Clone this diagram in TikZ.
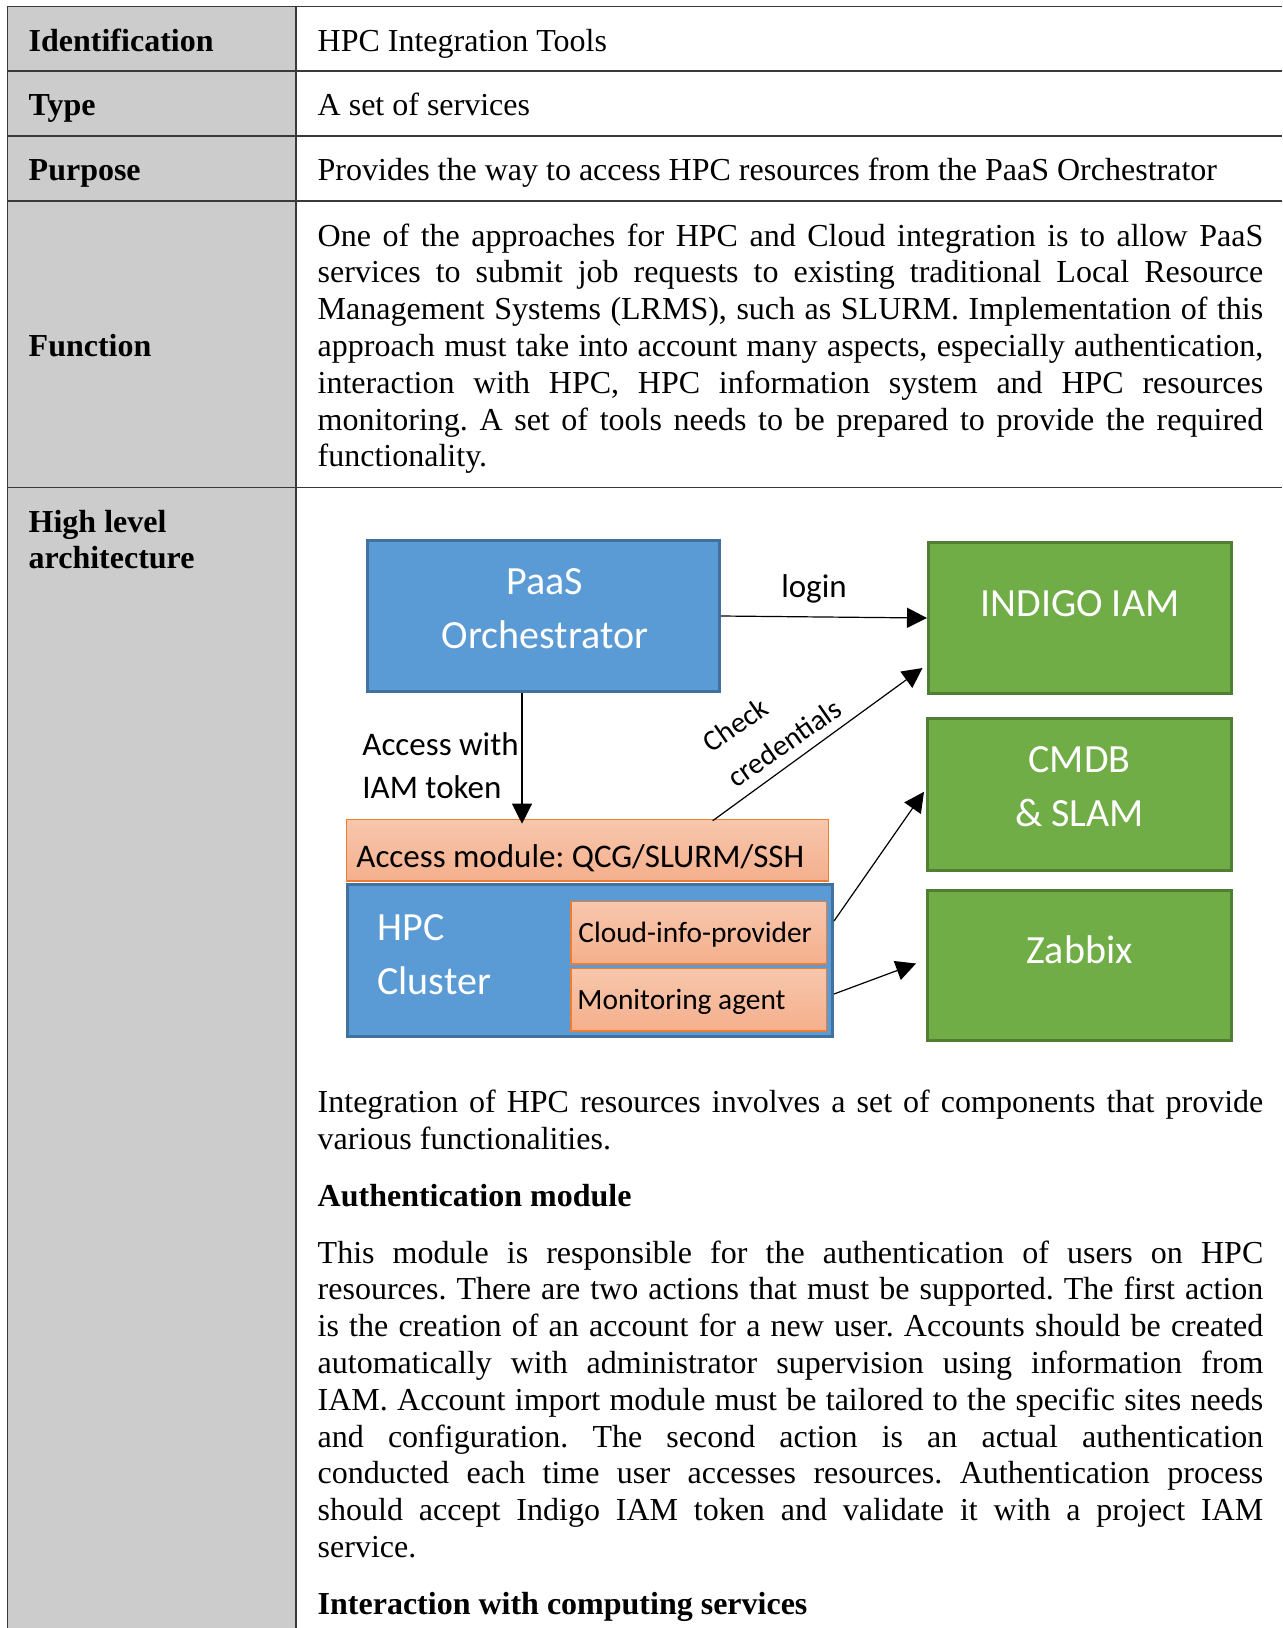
\documentclass[tikz,border=0pt]{standalone}
\usepackage{fontspec}
\setmainfont{Liberation Serif}
\newfontfamily\diagfont{Carlito}
\usetikzlibrary{arrows.meta,fit}
\setlength{\parindent}{0pt}
\tolerance=9999
\hbadness=10000
\frenchspacing
\definecolor{cellgray}{HTML}{CCCCCC}
\definecolor{rulegray}{HTML}{3A3A3A}
\definecolor{bluefill}{HTML}{5B9BD5}
\definecolor{blueline}{HTML}{41719C}
\definecolor{greenfill}{HTML}{70AD47}
\definecolor{greenline}{HTML}{507E32}
\definecolor{orangetop}{HTML}{F8C7AD}
\definecolor{orangebot}{HTML}{F4AF8C}
\definecolor{orangeline}{HTML}{ED7D31}
\tikzset{
  rule/.style={draw=rulegray, line width=0.7pt},
  txt/.style={inner sep=0pt, anchor=base west, font=\fontsize{16}{18.4}\selectfont},
  hdr/.style={inner sep=0pt, anchor=base west, font=\fontsize{16}{18.4}\selectfont\bfseries},
  hdrpara/.style={inner sep=0pt, anchor=north west, align=left, font=\fontsize{16}{18.4}\selectfont\bfseries},
  para/.style={inner sep=0pt, anchor=north west, text width=472.8pt, align=justify,
    font=\fontsize{16}{18.4}\selectfont,
    execute at begin node={\setlength{\parindent}{0pt}\frenchspacing}},
  bluebox/.style={fill=bluefill, draw=blueline, line width=1.5pt, inner sep=0pt},
  greenbox/.style={fill=greenfill, draw=greenline, line width=1.5pt, inner sep=0pt},
  orangebox/.style={top color=orangetop, bottom color=orangebot, draw=orangeline, line width=0.8pt, inner sep=0pt},
  wtitle/.style={text=white, inner sep=0pt, align=center, font=\diagfont\fontsize{20}{27}\selectfont},
  wtitleleft/.style={text=white, inner sep=0pt, align=left, anchor=north west, font=\diagfont\fontsize{20}{27}\selectfont},
  lbl/.style={text=black, inner sep=0pt, font=\diagfont\fontsize{16.5}{21.5}\selectfont\frenchspacing},
  smalllbl/.style={text=black, inner sep=0pt, font=\diagfont\fontsize{14.7}{21.5}\selectfont},
  arr/.style={draw=black, line width=0.6pt, -{Triangle[length=10pt,width=10pt]}},
}
\begin{document}
\begin{tikzpicture}[x=0.5pt,y=-0.5pt]
\useasboundingbox (0,0) rectangle (1282,1628);
% ---------- table ----------
\fill[cellgray] (7.3,6.7) rectangle (296,1628);
\draw[rule] (7.3,1628) -- (7.3,6.7) -- (1282,6.7);
\draw[rule] (296,6.7) -- (296,1628);
\draw[rule] (7.3,71) -- (1282,71);
\draw[rule] (7.3,136) -- (1282,136);
\draw[rule] (7.3,201) -- (1282,201);
\draw[rule] (7.3,487.3) -- (1282,487.3);

\node[hdr] (hId) at (28.3,51) {Identification};
\node[hdr] (hType) at (28.3,115.7) {Type};
\node[hdr] (hPurp) at (28.3,180.7) {Purpose};
\node[hdr] (hFunc) at (28.3,356) {Function};
\node[hdrpara] (hArch) at (28.3,505.9) {\strut High level\\architecture};

\node[txt] (vId) at (317.3,51) {HPC Integration Tools};
\node[txt] (vType) at (317.3,115.7) {A set of services};
\node[txt] (vPurp) at (317.3,180.7) {Provides the way to access HPC resources from the PaaS Orchestrator};
\node[para] (vFunc) at (317.3,219.9) {\strut One of the approaches for HPC and Cloud integration is to allow PaaS\linebreak
services to submit job requests to existing traditional Local Resource\linebreak
Management Systems (LRMS), such as SLURM. Implementation of this\linebreak
approach must take into account many aspects, especially authentication,\linebreak
interaction with HPC, HPC information system and HPC resources\linebreak
monitoring. A set of tools needs to be prepared to provide the required\linebreak
functionality.};

\node[para] (vArch) at (317.3,1086.5) {\strut\setlength{\parskip}{10pt}Integration of HPC resources involves a set of components that provide\linebreak
various functionalities.\par
{\bfseries Authentication module}\par
This module is responsible for the authentication of users on HPC\linebreak
resources. There are two actions that must be supported. The first action\linebreak
is the creation of an account for a new user. Accounts should be created\linebreak
automatically with administrator supervision using information from\linebreak
IAM. Account import module must be tailored to the specific sites needs\linebreak
and configuration. The second action is an actual authentication\linebreak
conducted each time user accesses resources. Authentication process\linebreak
should accept Indigo IAM token and validate it with a project IAM\linebreak
service.\par
{\bfseries Interaction with computing services}};

% ---------- diagram ----------
\node[bluebox, fit={(367.5,540.5) (719.5,691.5)}] (paas) {};
\node[greenbox, fit={(928.5,542.5) (1231.5,693.5)}] (iam) {};
\node[greenbox, fit={(927.5,718.5) (1231.5,870.5)}] (cmdb) {};
\node[greenbox, fit={(927.5,890.5) (1231.5,1040.5)}] (zab) {};
\node[orangebox, fit={(346.5,819.5) (828.5,881)}] (acc) {};
\node[bluebox, fit={(347.5,884.5) (832.5,1036.5)}] (hpc) {};
\node[orangebox, fit={(571,901.5) (826.5,964)}] (cip) {};
\node[orangebox, fit={(571,968.5) (826.5,1031)}] (mon) {};

\node[wtitle, anchor=north] (paasT) at (545,556.2) {\strut PaaS\\Orchestrator};
\node[wtitle, anchor=base] (iamT) at (1080,616) {INDIGO IAM};
\node[wtitle, anchor=north] (cmdbT) at (1079.5,734.2) {\strut CMDB\\\& SLAM};
\node[wtitle, anchor=base] (zabT) at (1079.5,963) {Zabbix};
\node[wtitleleft] (hpcT) at (377,901.8) {\strut HPC\\Cluster};
\node[lbl, anchor=base west] (accT) at (356,867) {Access module: QCG/SLURM/SSH};
\node[smalllbl, anchor=base west] (cipT) at (578,942) {Cloud-info-provider};
\node[smalllbl, anchor=base west] (monT) at (577,1009) {Monitoring agent};

\node[lbl, anchor=north west, align=left] (tokT) at (362,724.9) {\strut Access with\\IAM token};
\node[lbl, anchor=base] (loginT) at (814,597.5) {login};
\node[smalllbl, anchor=north west, align=left, rotate=35] (chkT) at (694,729) {\strut Check\\credentials};

\draw[arr] ([xshift=-10.75pt]paas.south) -- ([xshift=-32.75pt,yshift=-2.5pt]acc.north);
\draw[arr] (paas.east) -- (iam.west);
\draw[arr] ([xshift=183.5pt,yshift=-1pt]acc.north west) -- ([xshift=-2.25pt,yshift=13.5pt]iam.south west);
\draw[arr] ([yshift=19.75pt]hpc.east) -- ([xshift=-1pt,yshift=1.35pt]cmdb.west);
\draw[arr] ([yshift=-16.75pt]hpc.east) -- ([xshift=-5pt,yshift=1pt]zab.west);
\end{tikzpicture}
\end{document}
